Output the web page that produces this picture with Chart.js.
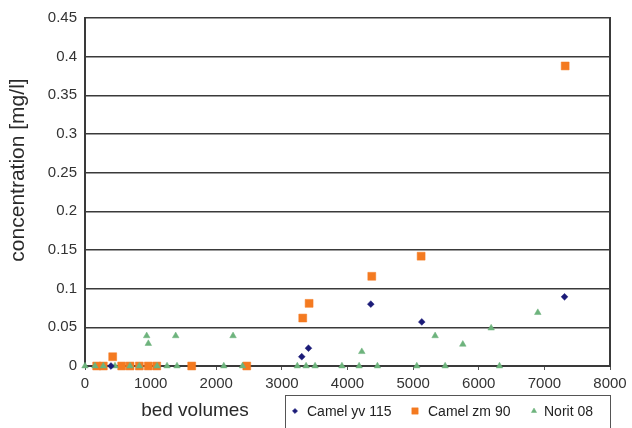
<!DOCTYPE html>
<html>
<head>
<meta charset="utf-8">
<script src="https://cdn.jsdelivr.net/npm/chart.js@4/dist/chart.umd.min.js"></script>
<style>
html,body{margin:0;padding:0;background:#fff;}
#wrap{position:relative;width:632px;height:428px;}
</style>
</head>
<body>
<div id="wrap"><canvas id="c" width="632" height="428"></canvas></div>
<script>
// ---- data ----
const seriesNames = ["Camel yv 115", "Camel zm 90", "Norit 08"];
const yTickValues = [0, 0.05, 0.1, 0.15, 0.2, 0.25, 0.3, 0.35, 0.4, 0.45];
const xTickValues = [0, 1000, 2000, 3000, 4000, 5000, 6000, 7000, 8000];

const camelYvX = [396, 3303, 3405, 4355, 5132, 7307];
const camelYvY = [0, 0.012, 0.023, 0.080, 0.057, 0.0895];

const camelZmX = [178, 279, 422, 559, 686, 828, 965, 1093, 1626, 2465, 3318, 3415, 4370, 5122, 7317];
const camelZmY = [0, 0, 0.012, 0, 0, 0, 0, 0, 0, 0, 0.062, 0.081, 0.116, 0.142, 0.388];

const noritX = [0, 152, 279, 457, 686, 828, 940, 965, 1098, 1250, 1382, 1402, 2115, 2256, 2400, 3235, 3369, 3506, 3915, 4177, 4218, 4456, 5056, 5335, 5488, 5757, 6189, 6316, 6900];
const noritY = [0, 0, 0, 0, 0, 0, 0.039, 0.029, 0, 0, 0.039, 0, 0, 0.039, 0, 0, 0, 0, 0, 0, 0.0185, 0, 0, 0.039, 0, 0.028, 0.049, 0, 0.069];

const xTitle = "bed volumes";
const yTitle = "concentration [mg/l]";

function pts(xs, ys){ return xs.map((x,i)=>({x:x, y:ys[i]})); }

const FONT = "'Liberation Sans', Arial, sans-serif";
const styles = [
  {color:'#1b1b78', style:'rectRot', r:3.4},
  {color:'#f47a20', style:'rect', r:5.6},
  {color:'#6db37c', style:'triangle', r:3.8}
];

const decor = {
  id:'decor',
  afterDraw(chart){
    const ctx = chart.ctx, a = chart.chartArea;
    ctx.save();
    // right border
    ctx.strokeStyle = '#3a3a3a';
    ctx.lineWidth = 2;
    ctx.beginPath();
    ctx.moveTo(a.right, a.top - 1);
    ctx.lineTo(a.right, a.bottom + 1);
    ctx.stroke();
    // y title
    ctx.fillStyle = '#2a2a2a';
    ctx.font = "21px " + FONT;
    ctx.textAlign = 'center';
    ctx.textBaseline = 'middle';
    ctx.translate(18, 170);
    ctx.rotate(-Math.PI/2);
    ctx.fillText(yTitle, 0, 0);
    ctx.restore();
    ctx.save();
    ctx.fillStyle = '#2a2a2a';
    ctx.font = "19px " + FONT;
    ctx.textAlign = 'center';
    ctx.textBaseline = 'middle';
    ctx.fillText(xTitle, 195, 411);
    // legend
    ctx.strokeStyle = '#555';
    ctx.lineWidth = 1;
    ctx.strokeRect(285.5, 395.5, 325, 45);
    const items = [{px:295, tx:307}, {px:415, tx:428}, {px:534, tx:544}];
    ctx.font = "14px " + FONT;
    ctx.textAlign = 'left';
    ctx.fillStyle = '#222';
    items.forEach((it,i)=>{
      const s = styles[i];
      ctx.save();
      ctx.fillStyle = s.color; ctx.strokeStyle = s.color; ctx.lineWidth = 0.5;
      const r = i===1 ? 4.5 : (i===0 ? 2.6 : 3);
      Chart.helpers.drawPoint(ctx, {pointStyle:s.style, radius:r, rotation:0, borderWidth:0.5}, it.px, 411);
      ctx.restore();
      ctx.fillStyle = '#222';
      ctx.fillText(seriesNames[i], it.tx, 412);
    });
    ctx.restore();
  }
};

const datasets = [
  {label:seriesNames[0], data:pts(camelYvX, camelYvY), order:0},
  {label:seriesNames[1], data:pts(camelZmX, camelZmY), order:2},
  {label:seriesNames[2], data:pts(noritX, noritY), order:1}
].map((d,i)=>Object.assign(d, {
  pointStyle: styles[i].style,
  pointRadius: styles[i].r,
  pointHoverRadius: styles[i].r,
  backgroundColor: styles[i].color,
  borderColor: styles[i].color,
  pointBorderWidth: 0.5,
  showLine:false,
  clip:false
}));

new Chart(document.getElementById('c'), {
  type:'scatter',
  data:{datasets},
  plugins:[decor],
  options:{
    responsive:false,
    animation:false,
    events:[],
    layout:{padding:{top:18, right:22, left:0, bottom:0}},
    plugins:{legend:{display:false}, tooltip:{enabled:false}},
    scales:{
      x:{
        type:'linear', min:0, max:8000,
        afterBuildTicks(s){ s.ticks = xTickValues.map(v=>({value:v})); },
        afterFit(s){ s.height = 62; },
        grid:{drawOnChartArea:false, drawTicks:true, tickLength:4, color:'#555', lineWidth:1},
        border:{color:'#3a3a3a', width:2},
        ticks:{font:{family:FONT, size:15}, color:'#333', padding:5, maxRotation:0,
               callback:(v)=>String(v)}
      },
      y:{
        type:'linear', min:0, max:0.45,
        afterBuildTicks(s){ s.ticks = yTickValues.map(v=>({value:v})); },
        afterFit(s){ s.width = 85; },
        grid:{drawTicks:false, color:'#3a3a3a', lineWidth:1.6},
        border:{color:'#3a3a3a', width:2},
        ticks:{font:{family:FONT, size:15}, color:'#333', padding:8,
               callback:(v)=>String(Math.round(v*100)/100)}
      }
    }
  }
});
</script>
</body>
</html>
